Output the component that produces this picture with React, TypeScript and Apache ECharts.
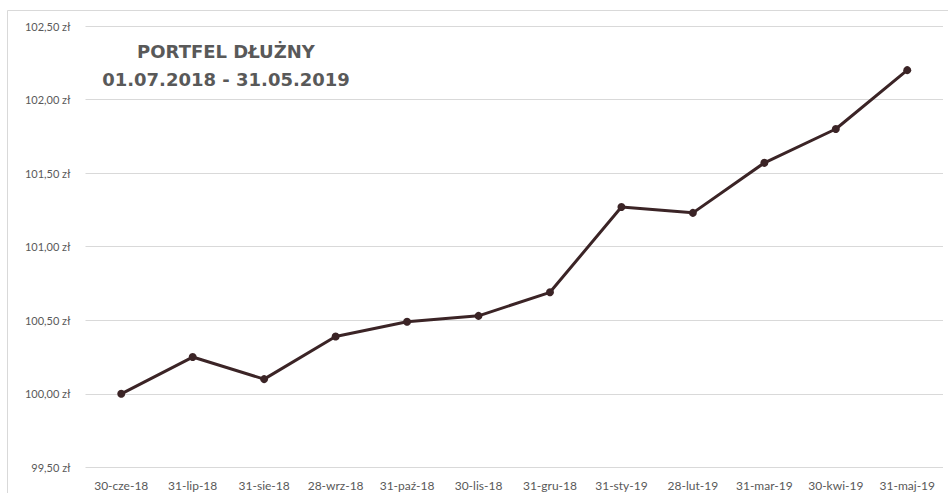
import React, { useEffect, useRef } from "react";
import * as echarts from "echarts";

const categories = [
  "30-cze-18", "31-lip-18", "31-sie-18", "28-wrz-18", "31-paź-18", "30-lis-18",
  "31-gru-18", "31-sty-19", "28-lut-19", "31-mar-19", "30-kwi-19", "31-maj-19",
];
const values = [100.0, 100.25, 100.1, 100.39, 100.49, 100.53, 100.69, 101.27, 101.23, 101.57, 101.8, 102.2];
const titleLines = ["PORTFEL DŁUŻNY", "01.07.2018 - 31.05.2019"];
const yMin = 99.5;
const yMax = 102.5;
const yStep = 0.5;

const FONT = "Lato, 'Open Sans', sans-serif";
const TITLE_FONT = "'DejaVu Sans', 'Open Sans', sans-serif";

export default function App() {
  const ref = useRef<HTMLDivElement>(null);
  useEffect(() => {
    if (!ref.current) return;
    const chart = echarts.init(ref.current, undefined, { renderer: "svg" });
    chart.setOption({
      animation: false,
      backgroundColor: "#ffffff",
      grid: { left: 85.5, right: 5, top: 26, bottom: 25.6, containLabel: false },
      xAxis: {
        type: "category",
        data: categories,
        boundaryGap: true,
        axisLine: { show: false },
        axisTick: { show: false },
        axisLabel: { color: "#595959", fontSize: 12, fontFamily: FONT, margin: 12, interval: 0 },
      },
      yAxis: {
        type: "value",
        min: yMin,
        max: yMax,
        interval: yStep,
        axisLine: { show: false },
        axisTick: { show: false },
        splitLine: { lineStyle: { color: "#d9d9d9", width: 1 } },
        axisLabel: {
          color: "#595959",
          fontSize: 11,
          fontFamily: FONT,
          margin: 15,
          formatter: (v: number) => v.toFixed(2).replace(".", ",") + " zł",
        },
      },
      series: [
        {
          type: "line",
          data: values,
          symbol: "circle",
          symbolSize: 8,
          lineStyle: { color: "#3b2426", width: 3 },
          itemStyle: { color: "#3b2426" },
        },
      ],
      graphic: [
        {
          type: "rect",
          shape: { x: 7.5, y: 10.5, width: 960, height: 500 },
          style: { fill: "none", stroke: "#d9d9d9", lineWidth: 1 },
          silent: true,
        },
        {
          type: "text",
          x: 226,
          y: 51,
          style: {
            text: titleLines[0],
            fill: "#595959",
            font: `bold 18px ${TITLE_FONT}`,
            textAlign: "center",
            textVerticalAlign: "middle",
          },
        },
        {
          type: "text",
          x: 226,
          y: 79,
          style: {
            text: titleLines[1],
            fill: "#595959",
            font: `bold 18px ${TITLE_FONT}`,
            textAlign: "center",
            textVerticalAlign: "middle",
          },
        },
      ],
    });
    return () => chart.dispose();
  }, []);
  return (
    <div
      ref={ref}
      style={{ position: "absolute", left: 0, top: 0, width: 948, height: 493 }}
    />
  );
}
